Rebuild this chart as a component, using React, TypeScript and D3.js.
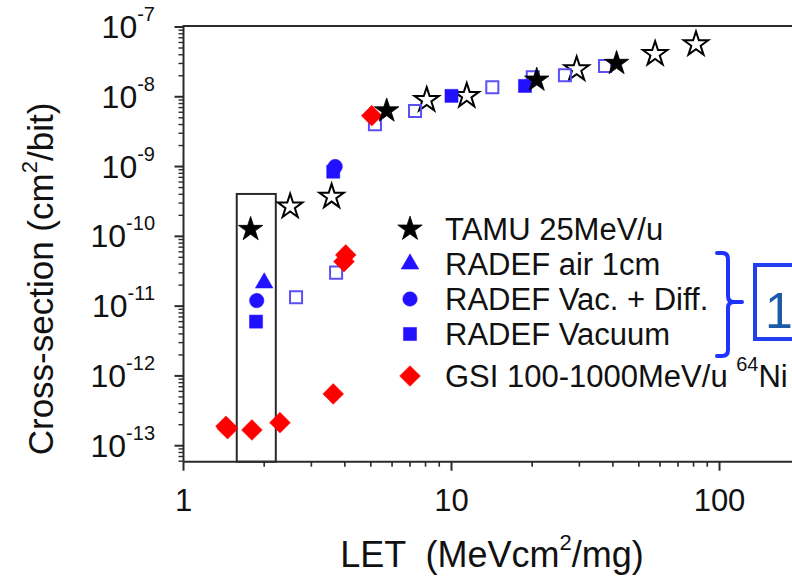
import React from "react";
import * as d3 from "d3";

// LET (MeV·cm²/mg) and cross-section (cm²/bit) per data set
const tamuLet = [1.78, 5.73, 20.8, 41.3];
const tamuCs = [1.26e-10, 6.3e-9, 1.74e-8, 3.02e-8];

const tamuOpenLet = [2.5, 3.57, 8.08, 11.4, 29.3, 57.5, 81.7];
const tamuOpenCs = [2.67e-10, 3.7e-10, 9.0e-9, 1.03e-8, 2.48e-8, 4.1e-8, 5.65e-8];

const radefOpenLet = [2.63, 3.71, 5.18, 7.31, 14.2, 20.1, 26.5, 37.4];
const radefOpenCs = [1.34e-11, 3.02e-11, 4.04e-9, 6.27e-9, 1.37e-8, 1.9e-8, 2.03e-8, 2.76e-8];

const radefAirLet = [2.0];
const radefAirCs = [2.15e-11];

const radefDiffLet = [1.876, 3.68];
const radefDiffCs = [1.2e-11, 1.0e-9];

const radefVacLet = [1.865, 3.62, 10.0, 18.8];
const radefVacCs = [6.0e-12, 8.45e-10, 1.03e-8, 1.43e-8];

const gsiLet = [1.44, 1.46, 1.8, 2.29, 3.62, 3.97, 4.03, 5.04];
const gsiCs = [1.9e-13, 1.75e-13, 1.68e-13, 2.14e-13, 5.52e-13, 4.35e-11, 5.42e-11, 5.36e-9];

// highlighted region around the lowest-LET beam
const boxLet = [1.58, 2.21];
const boxCsTop = 4.05e-10;

const xTickValues = [1, 10, 100];
const xTickLabels = ["1", "10", "100"];
const yTickExponents = [-7, -8, -9, -10, -11, -12, -13];

const legendLabels = [
  "TAMU 25MeV/u",
  "RADEF air 1cm",
  "RADEF Vac. + Diff.",
  "RADEF Vacuum",
  "GSI 100-1000MeV/u ",
];

const X_DOMAIN: [number, number] = [1, 200];
const Y_DOMAIN: [number, number] = [5.9e-14, 1.033e-7];

const FONT = "'Liberation Sans', Arial, Helvetica, sans-serif";
const BLUE = "#2211ff";
const OPEN_BLUE = "#5a50f5";
const RED = "#ff0000";
const AXIS = "#2a2a2a";

const left = 183.5;
const right = 800.2;
const top = 26;
const bottom = 461.7;

const x = d3.scaleLog().domain(X_DOMAIN).range([left, right]);
const y = d3.scaleLog().domain(Y_DOMAIN).range([bottom, top]);

const starPath = d3.symbol().type(d3.symbolStar).size(185)()!;
const squarePath = d3.symbol().type(d3.symbolSquare).size(172)()!;
const openSquarePath = d3.symbol().type(d3.symbolSquare).size(145)()!;
const circlePath = d3.symbol().type(d3.symbolCircle).size(165)()!;
const trianglePath = d3.symbol().type(d3.symbolTriangle).size(135)()!;
const diamondPath = d3.symbol().type(d3.symbolSquare).size(215)()!;

function pts(lets: number[], cs: number[]) {
  return lets.map((l, i) => [x(l), y(cs[i])] as [number, number]);
}

function minorTicks(domain: [number, number]) {
  const out: { v: number; major: boolean }[] = [];
  const k0 = Math.floor(Math.log10(domain[0]));
  const k1 = Math.ceil(Math.log10(domain[1]));
  for (let k = k0; k <= k1; k++) {
    for (let m = 1; m <= 9; m++) {
      const v = m * Math.pow(10, k);
      if (v >= domain[0] * 0.9999 && v <= domain[1] * 1.0001) out.push({ v, major: m === 1 });
    }
  }
  return out;
}

type Marker = { d: string; fill: string; stroke: string; sw: number; rot?: number };

const markers: Record<string, Marker> = {
  tamu: { d: starPath, fill: "#000", stroke: "#000", sw: 0.8 },
  tamuOpen: { d: starPath, fill: "#fff", stroke: "#000", sw: 2 },
  open: { d: openSquarePath, fill: "none", stroke: OPEN_BLUE, sw: 2 },
  air: { d: trianglePath, fill: BLUE, stroke: BLUE, sw: 0.5 },
  diff: { d: circlePath, fill: BLUE, stroke: BLUE, sw: 0.5 },
  vac: { d: squarePath, fill: BLUE, stroke: BLUE, sw: 0.5 },
  gsi: { d: diamondPath, fill: RED, stroke: RED, sw: 0.5, rot: 45 },
};

function Sym({ m, cx, cy }: { m: Marker; cx: number; cy: number }) {
  return (
    <path
      d={m.d}
      transform={`translate(${cx},${cy})${m.rot ? ` rotate(${m.rot})` : ""}`}
      fill={m.fill}
      stroke={m.stroke}
      strokeWidth={m.sw}
      strokeLinejoin="miter"
    />
  );
}

const series: { key: string; pts: [number, number][] }[] = [
  { key: "tamuOpen", pts: pts(tamuOpenLet, tamuOpenCs) },
  { key: "open", pts: pts(radefOpenLet, radefOpenCs) },
  { key: "vac", pts: pts(radefVacLet, radefVacCs) },
  { key: "diff", pts: pts(radefDiffLet, radefDiffCs) },
  { key: "air", pts: pts(radefAirLet, radefAirCs) },
  { key: "gsi", pts: pts(gsiLet, gsiCs) },
  { key: "tamu", pts: pts(tamuLet, tamuCs) },
];

const legendKeys = ["tamu", "air", "diff", "vac", "gsi"];
const legendRowY = [229, 264, 299, 334, 376];

export default function App() {
  const xt = minorTicks(X_DOMAIN);
  const yt = minorTicks(Y_DOMAIN);
  return (
    <svg
      width={792}
      height={577}
      style={{ position: "absolute", left: 0, top: 0, background: "#fff" }}
      fontFamily={FONT}
    >
      <rect x={0} y={0} width={792} height={577} fill="#fff" />

      {/* frame */}
      <line x1={left} x2={right} y1={top} y2={top} stroke={AXIS} strokeWidth={2} />
      <line x1={left} x2={right} y1={bottom} y2={bottom} stroke={AXIS} strokeWidth={2} />
      <line x1={left} x2={left} y1={top - 1} y2={bottom} stroke={AXIS} strokeWidth={2} />
      <line x1={right} x2={right} y1={top} y2={bottom} stroke={AXIS} strokeWidth={2} />

      {/* x ticks */}
      {xt.map((t, i) => (
        <line
          key={"xt" + i}
          x1={x(t.v)}
          x2={x(t.v)}
          y1={bottom}
          y2={bottom + (t.major ? 9 : 5)}
          stroke={AXIS}
          strokeWidth={t.major ? 2 : 1.6}
        />
      ))}
      {/* y ticks */}
      {yt.map((t, i) => (
        <line
          key={"yt" + i}
          x1={left}
          x2={left - (t.major ? 9 : 5)}
          y1={y(t.v)}
          y2={y(t.v)}
          stroke={AXIS}
          strokeWidth={t.major ? 2 : 1.4}
        />
      ))}

      {/* x tick labels */}
      {xTickValues.map((v, i) => (
        <text key={"xl" + i} x={x(v)} y={511} textAnchor="middle" fontSize={31} fill="#111">
          {xTickLabels[i]}
        </text>
      ))}
      {/* y tick labels */}
      {yTickExponents.map((e) => (
        <text key={"yl" + e} x={155} y={y(Math.pow(10, e)) + 11} textAnchor="end" fill="#111">
          <tspan fontSize={32}>10</tspan>
          <tspan fontSize={20} dy={-17}>
            {String(e)}
          </tspan>
        </text>
      ))}

      {/* axis titles */}
      <text x={492} y={567} textAnchor="middle" fontSize={36} fill="#111" style={{ whiteSpace: "pre" }}>
        <tspan>{"LET  (MeVcm"}</tspan>
        <tspan fontSize={22} dy={-17}>2</tspan>
        <tspan dy={17}>/mg)</tspan>
      </text>
      <text
        transform={`translate(53,279) rotate(-90)`}
        textAnchor="middle"
        fontSize={35}
        fill="#111"
      >
        <tspan>Cross-section (cm</tspan>
        <tspan fontSize={22} dy={-16}>2</tspan>
        <tspan dy={16}>/bit)</tspan>
      </text>

      {/* highlight box */}
      <rect
        x={x(boxLet[0])}
        y={y(boxCsTop)}
        width={x(boxLet[1]) - x(boxLet[0])}
        height={bottom - y(boxCsTop)}
        fill="none"
        stroke={AXIS}
        strokeWidth={2}
      />

      {/* data */}
      {series.map((s) =>
        s.pts.map((p, i) => <Sym key={s.key + i} m={markers[s.key]} cx={p[0]} cy={p[1]} />)
      )}

      {/* legend */}
      {legendKeys.map((k, i) => (
        <g key={"lg" + k}>
          <Sym m={markers[k]} cx={410} cy={legendRowY[i]} />
          <text x={445} y={legendRowY[i] + 11} fontSize={31} fill="#111">
            {legendLabels[i]}
            {k === "gsi" ? (
              <>
                <tspan fontSize={20} dy={-16}>64</tspan>
                <tspan dy={16}>Ni</tspan>
              </>
            ) : null}
          </text>
        </g>
      ))}

      {/* grouping bracket and callout */}
      <path
        d="M717,253 L722,253 Q728,253 728,259 L728,296 Q728,302 734,302 L742,302 M734,302 Q728,302 728,308 L728,350 Q728,356 722,356 L717,356"
        fill="none"
        stroke="#1f33ff"
        strokeWidth={4}
        strokeLinecap="round"
      />
      <rect x={755} y={265} width={90} height={74} fill="none" stroke="#1f3ff0" strokeWidth={4} />
      <text x={765} y={328} fontSize={50} fill="#1d5aa8">
        1
      </text>
    </svg>
  );
}
